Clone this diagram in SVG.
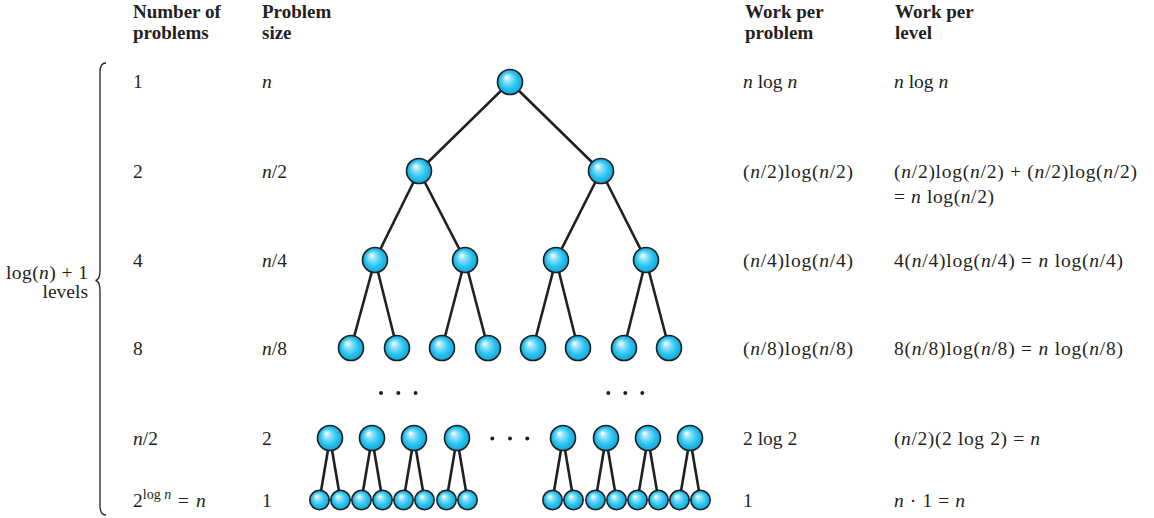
<svg xmlns="http://www.w3.org/2000/svg" width="1154" height="518" viewBox="0 0 1154 518">
  <defs>
    <radialGradient id="ball" cx="0.5" cy="0.5" r="0.5" fx="0.35" fy="0.3">
      <stop offset="0" stop-color="#ffffff"/>
      <stop offset="0.3" stop-color="#8fe0f8"/>
      <stop offset="0.65" stop-color="#2cc6f1"/>
      <stop offset="1" stop-color="#0ea6da"/>
    </radialGradient>
    <style>
      .hd { font-size: 19px; font-weight: bold; }
      .tx { font-size: 19.5px; }
      .i { font-style: italic; }
      .sup { font-size: 14px; }
      .node { fill: url(#ball); stroke: #231f20; stroke-width: 1.6; }
      .edge { stroke: #231f20; stroke-width: 2.6; fill: none; }
      .dot { fill: #231f20; }
      .brace { stroke: #231f20; stroke-width: 1.3; fill: none; }
    </style>
  </defs>
  <rect width="1154" height="518" fill="#ffffff"/>

  <g font-family="'Liberation Serif', 'DejaVu Serif', 'Times New Roman', serif" fill="#231f20">
  <!-- column headers -->
  <g id="headers">
    <text class="hd" x="133" y="18">Number of</text>
    <text class="hd" x="133" y="39">problems</text>
    <text class="hd" x="262" y="18">Problem</text>
    <text class="hd" x="262" y="39">size</text>
    <text class="hd" x="745" y="18">Work per</text>
    <text class="hd" x="745" y="39">problem</text>
    <text class="hd" x="895" y="18">Work per</text>
    <text class="hd" x="895" y="39">level</text>
  </g>

  <!-- brace spanning all levels -->
  <g id="levels-brace">
    <path class="brace" d="M106,63 Q100,63 100,72 L100,270 Q100,280 95.5,280.5 Q100,281 100,291 L100,506 Q100,515 106,515"/>
    <text class="tx" x="6" y="279" textLength="82" lengthAdjust="spacing">log(<tspan class="i">n</tspan>) + 1</text>
    <text class="tx" x="88" y="298" text-anchor="end">levels</text>
  </g>

  <!-- table rows -->
  <g id="row-1">
    <text class="tx" x="133" y="88">1</text>
    <text class="tx i" x="262" y="88">n</text>
    <text class="tx" x="743" y="88"><tspan class="i">n</tspan> log <tspan class="i">n</tspan></text>
    <text class="tx" x="894" y="88"><tspan class="i">n</tspan> log <tspan class="i">n</tspan></text>
  </g>
  <g id="row-2">
    <text class="tx" x="133" y="178">2</text>
    <text class="tx" x="262" y="178"><tspan class="i">n</tspan>/2</text>
    <text class="tx" x="743" y="178" textLength="110" lengthAdjust="spacing">(<tspan class="i">n</tspan>/2)log(<tspan class="i">n</tspan>/2)</text>
    <text class="tx" x="894" y="178" textLength="243" lengthAdjust="spacing">(<tspan class="i">n</tspan>/2)log(<tspan class="i">n</tspan>/2) + (<tspan class="i">n</tspan>/2)log(<tspan class="i">n</tspan>/2)</text>
    <text class="tx" x="894" y="203" textLength="100" lengthAdjust="spacing">= <tspan class="i">n</tspan> log(<tspan class="i">n</tspan>/2)</text>
  </g>
  <g id="row-3">
    <text class="tx" x="133" y="267">4</text>
    <text class="tx" x="262" y="267"><tspan class="i">n</tspan>/4</text>
    <text class="tx" x="743" y="267" textLength="110" lengthAdjust="spacing">(<tspan class="i">n</tspan>/4)log(<tspan class="i">n</tspan>/4)</text>
    <text class="tx" x="894" y="267" textLength="229" lengthAdjust="spacing">4(<tspan class="i">n</tspan>/4)log(<tspan class="i">n</tspan>/4) = <tspan class="i">n</tspan> log(<tspan class="i">n</tspan>/4)</text>
  </g>
  <g id="row-4">
    <text class="tx" x="133" y="355">8</text>
    <text class="tx" x="262" y="355"><tspan class="i">n</tspan>/8</text>
    <text class="tx" x="743" y="355" textLength="110" lengthAdjust="spacing">(<tspan class="i">n</tspan>/8)log(<tspan class="i">n</tspan>/8)</text>
    <text class="tx" x="894" y="355" textLength="229" lengthAdjust="spacing">8(<tspan class="i">n</tspan>/8)log(<tspan class="i">n</tspan>/8) = <tspan class="i">n</tspan> log(<tspan class="i">n</tspan>/8)</text>
  </g>
  <g id="row-5">
    <text class="tx" x="133" y="445"><tspan class="i">n</tspan>/2</text>
    <text class="tx" x="262" y="445">2</text>
    <text class="tx" x="743" y="445">2 log 2</text>
    <text class="tx" x="894" y="445" textLength="146" lengthAdjust="spacing">(<tspan class="i">n</tspan>/2)(2 log 2) = <tspan class="i">n</tspan></text>
  </g>
  <g id="row-6">
    <text class="tx" x="133" y="507">2<tspan class="sup" dy="-8">log <tspan class="i">n</tspan></tspan><tspan dy="8" dx="2"> = </tspan><tspan class="i" dx="2">n</tspan></text>
    <text class="tx" x="262" y="507">1</text>
    <text class="tx" x="743" y="507">1</text>
    <text class="tx" x="894" y="507" textLength="71" lengthAdjust="spacing"><tspan class="i">n</tspan> · 1 = <tspan class="i">n</tspan></text>
  </g>
  </g>

  <!-- connectors -->
  <g id="connectors">
    <!-- root to level 2 -->
    <line class="edge" x1="510" y1="82" x2="419" y2="171"/>
    <line class="edge" x1="510" y1="82" x2="601" y2="171"/>
    <!-- level 2 to level 3 -->
    <line class="edge" x1="419" y1="171" x2="375" y2="260"/>
    <line class="edge" x1="419" y1="171" x2="465" y2="260"/>
    <line class="edge" x1="601" y1="171" x2="556" y2="260"/>
    <line class="edge" x1="601" y1="171" x2="646" y2="260"/>
    <!-- level 3 to level 4 -->
    <line class="edge" x1="375" y1="260" x2="351" y2="348"/>
    <line class="edge" x1="375" y1="260" x2="397" y2="348"/>
    <line class="edge" x1="465" y1="260" x2="442" y2="348"/>
    <line class="edge" x1="465" y1="260" x2="488" y2="348"/>
    <line class="edge" x1="556" y1="260" x2="533" y2="348"/>
    <line class="edge" x1="556" y1="260" x2="578" y2="348"/>
    <line class="edge" x1="646" y1="260" x2="624" y2="348"/>
    <line class="edge" x1="646" y1="260" x2="669" y2="348"/>
    <!-- level n/2 to leaves -->
    <line class="edge" x1="330" y1="438" x2="319.5" y2="500"/>
    <line class="edge" x1="330" y1="438" x2="340.5" y2="500"/>
    <line class="edge" x1="372" y1="438" x2="361.5" y2="500"/>
    <line class="edge" x1="372" y1="438" x2="382.5" y2="500"/>
    <line class="edge" x1="414" y1="438" x2="403.5" y2="500"/>
    <line class="edge" x1="414" y1="438" x2="424.5" y2="500"/>
    <line class="edge" x1="457" y1="438" x2="446.5" y2="500"/>
    <line class="edge" x1="457" y1="438" x2="467.5" y2="500"/>
    <line class="edge" x1="563" y1="438" x2="552.5" y2="500"/>
    <line class="edge" x1="563" y1="438" x2="573.5" y2="500"/>
    <line class="edge" x1="606" y1="438" x2="595.5" y2="500"/>
    <line class="edge" x1="606" y1="438" x2="616.5" y2="500"/>
    <line class="edge" x1="648" y1="438" x2="637.5" y2="500"/>
    <line class="edge" x1="648" y1="438" x2="658.5" y2="500"/>
    <line class="edge" x1="690" y1="438" x2="679.5" y2="500"/>
    <line class="edge" x1="690" y1="438" x2="700.5" y2="500"/>
  </g>

  <!-- ellipses between levels -->
  <g id="ellipses">
    <circle class="dot" cx="381" cy="393" r="2"/>
    <circle class="dot" cx="398.3" cy="393" r="2"/>
    <circle class="dot" cx="415.6" cy="393" r="2"/>
    <circle class="dot" cx="608.3" cy="393" r="2"/>
    <circle class="dot" cx="625.3" cy="393" r="2"/>
    <circle class="dot" cx="642.3" cy="393" r="2"/>
    <circle class="dot" cx="492.3" cy="438.5" r="2"/>
    <circle class="dot" cx="510" cy="438.5" r="2"/>
    <circle class="dot" cx="527.3" cy="438.5" r="2"/>
  </g>

  <!-- tree nodes -->
  <g id="n-root"><circle class="node" cx="510" cy="82" r="12.5"/></g>
  <g id="n-l2a"><circle class="node" cx="419" cy="171" r="12.5"/></g>
  <g id="n-l2b"><circle class="node" cx="601" cy="171" r="12.5"/></g>
  <g id="n-l3a"><circle class="node" cx="375" cy="260" r="12.5"/></g>
  <g id="n-l3b"><circle class="node" cx="465" cy="260" r="12.5"/></g>
  <g id="n-l3c"><circle class="node" cx="556" cy="260" r="12.5"/></g>
  <g id="n-l3d"><circle class="node" cx="646" cy="260" r="12.5"/></g>
  <g id="n-l4a"><circle class="node" cx="351" cy="348" r="12.5"/></g>
  <g id="n-l4b"><circle class="node" cx="397" cy="348" r="12.5"/></g>
  <g id="n-l4c"><circle class="node" cx="442" cy="348" r="12.5"/></g>
  <g id="n-l4d"><circle class="node" cx="488" cy="348" r="12.5"/></g>
  <g id="n-l4e"><circle class="node" cx="533" cy="348" r="12.5"/></g>
  <g id="n-l4f"><circle class="node" cx="578" cy="348" r="12.5"/></g>
  <g id="n-l4g"><circle class="node" cx="624" cy="348" r="12.5"/></g>
  <g id="n-l4h"><circle class="node" cx="669" cy="348" r="12.5"/></g>
  <g id="n-l5a"><circle class="node" cx="330" cy="438" r="12.5"/></g>
  <g id="n-l5b"><circle class="node" cx="372" cy="438" r="12.5"/></g>
  <g id="n-l5c"><circle class="node" cx="414" cy="438" r="12.5"/></g>
  <g id="n-l5d"><circle class="node" cx="457" cy="438" r="12.5"/></g>
  <g id="n-l5e"><circle class="node" cx="563" cy="438" r="12.5"/></g>
  <g id="n-l5f"><circle class="node" cx="606" cy="438" r="12.5"/></g>
  <g id="n-l5g"><circle class="node" cx="648" cy="438" r="12.5"/></g>
  <g id="n-l5h"><circle class="node" cx="690" cy="438" r="12.5"/></g>
  <g id="n-leaves">
    <circle class="node" cx="319.5" cy="500" r="9.7"/>
    <circle class="node" cx="340.5" cy="500" r="9.7"/>
    <circle class="node" cx="361.5" cy="500" r="9.7"/>
    <circle class="node" cx="382.5" cy="500" r="9.7"/>
    <circle class="node" cx="403.5" cy="500" r="9.7"/>
    <circle class="node" cx="424.5" cy="500" r="9.7"/>
    <circle class="node" cx="446.5" cy="500" r="9.7"/>
    <circle class="node" cx="467.5" cy="500" r="9.7"/>
    <circle class="node" cx="552.5" cy="500" r="9.7"/>
    <circle class="node" cx="573.5" cy="500" r="9.7"/>
    <circle class="node" cx="595.5" cy="500" r="9.7"/>
    <circle class="node" cx="616.5" cy="500" r="9.7"/>
    <circle class="node" cx="637.5" cy="500" r="9.7"/>
    <circle class="node" cx="658.5" cy="500" r="9.7"/>
    <circle class="node" cx="679.5" cy="500" r="9.7"/>
    <circle class="node" cx="700.5" cy="500" r="9.7"/>
  </g>
</svg>
